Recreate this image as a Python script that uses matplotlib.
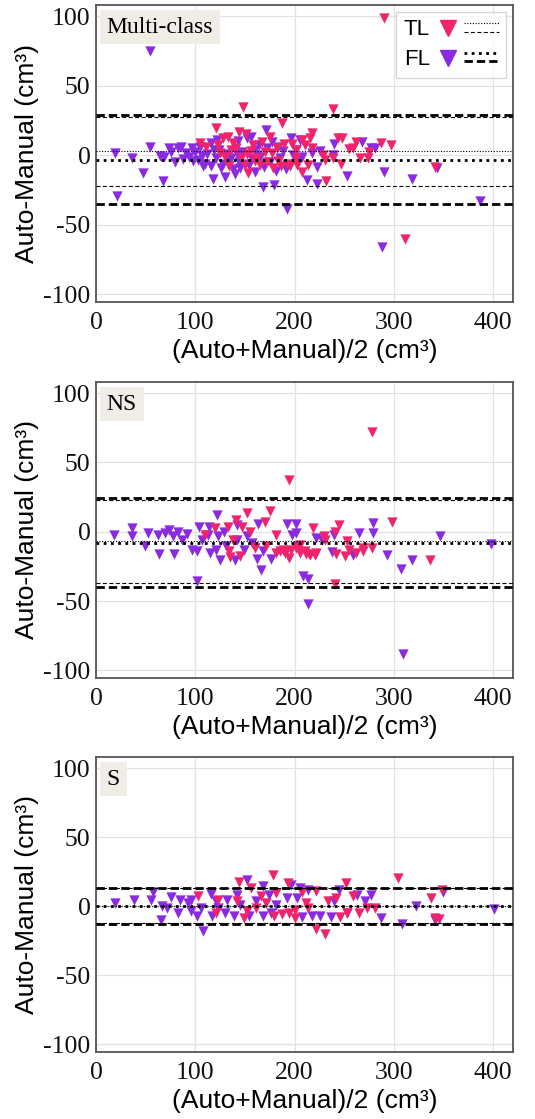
import matplotlib
matplotlib.use("Agg")
import matplotlib.pyplot as plt
from matplotlib.legend_handler import HandlerBase
from matplotlib.lines import Line2D

plt.rcParams['font.family'] = ['Liberation Sans', 'DejaVu Sans']
plt.rcParams['axes.unicode_minus'] = False

# ---------------- data ----------------
panel_titles = ["Multi-class", "NS", "S"]
class_names = ["TL", "FL"]
x_ticks = [0, 100, 200, 300, 400]
y_ticks = [-100, -50, 0, 50, 100]

# Multi-class
mc_tl_x = [148.5, 120.7, 132.8, 144.3, 150.8, 123, 128, 105, 110.5, 136, 152.5, 158, 162.3, 150, 153.4,
           175.4, 177, 183, 187.5, 189, 192.5, 195, 201.6, 172, 165, 129.5, 124.6, 141, 167, 182,
           239, 218, 216, 244, 248, 262, 259, 255, 287, 297, 207.6, 211, 217.5, 229, 230.7, 239, 247,
           266, 274, 275, 213.5, 207, 231.4, 202.6, 341, 201, 290, 311,
           138, 146, 156, 170, 186, 197, 178, 160, 134]
mc_tl_y = [35, 19.4, 13.4, 16.5, 15, 7.4, 12.2, 8.6, 5.7, 3.8, 0.6, 7.4, -1.8, -7, -13,
           13.4, 1.4, -3.9, 23, 7.9, -6.3, -7.5, 3.8, -4.7, -7, -1, 1.4, 5, 9.8, 5,
           33, 15.8, 12.2, 12.7, 12.7, 9.8, 5.4, 4.5, 8.6, 7.4, 11, 7.4, 5, 0.2, -3.5, -2.2, -6.6,
           -2.2, -1.8, 2.1, -7, -11.9, -18.6, -7, -8.3, -2.2, 99, -60,
           9, -2, 3, 2, -8, 8, -9, -4, -8]
mc_fl_x = [18.7, 36, 47.5, 54.8, 21.3, 67.9, 64, 68.9, 73.8, 79.7, 83, 86, 90.8, 96.7, 94, 105, 103, 110,
           116, 112, 115.4, 122, 124, 128, 133, 129.5, 117.4, 140, 142.6, 144, 141.6, 152.5, 155.7,
           147.5, 159.7, 164, 171.5, 168.9, 177, 181, 168, 179, 196, 198, 191.8, 106.6, 121, 136, 162,
           172, 100, 108, 126, 138, 150, 157, 165, 185, 188, 175, 160, 145,
           205, 240, 267.7, 276.9, 280.9, 225.7, 217.5, 239, 207.6, 222.8, 212.5, 223, 252.5, 290,
           318.5, 343.9, 386.5, 201, 203.6, 54, 192, 288,
           76, 88, 98, 119, 131, 154, 183]
mc_fl_y = [1.4, -2.2, -13, 6.2, -29.2, -18.6, -0.4, -1, 5.4, -4.7, 5.4, 6.2, 1.4, 5, -1, 6.2, -3.5, -6.6,
           -7.5, 0.6, 8.6, 11, 3.8, -6.3, -4.2, -15.5, -17.4, -13.8, 10.3, -4.6, 0.6, 12.2, 13.4,
           2.5, 3.8, 7.4, 18.2, -8.3, 9.8, -11.4, -22.7, -21.5, 12.2, 0.2, -10, -0.3, -2.2, -2.2, 0.2,
           5, 2, -8, -9, -10, -6, -3, -1, -2, 3, -5, -12, -9,
           11, 7.9, 9.3, 5, 5.4, 3.1, 1.4, 0.2, -1, -8.3, -17.9, -21, -15, -11.9,
           -17.2, -9, -33, 3.8, -4.7, 75, -39, -66,
           2, -3, -4, 4, 1, -7, 6]

# NS
ns_tl_x = [140.7, 152, 175, 194, 132.6, 147.2, 155.4, 170, 181.4, 134.2, 145, 171.7, 181.4, 188, 194.5,
           119.5, 109.8, 160.3, 201, 137.5, 298.4, 244.3, 240.3, 218.7, 229.5, 252.5, 262.3, 268.9,
           277.7, 255, 250.8, 221, 216, 211.5, 205, 336, 240.3, 231, 278,
           185, 190, 196, 205, 210, 215, 222, 135, 242, 269]
ns_tl_y = [8.5, 13.3, 14.9, 37, 3.7, 3.7, 0.1, 6.8, -2.3, -14.2, -17.8, -10.6, -15.4, -13, -19,
           2.5, -2.3, -11.8, -11.8, -5.8, 7.3, 4.9, 0.1, 2.5, -3, -6.5, -15.4, -11.8,
           -11.8, -13, -17.8, -17, -16.6, -16, -9.4, -20.6, -37.6, -5.8, 72,
           -14, -15, -13, -15, -14, -16, -15, -18, -16, -14]
ns_fl_x = [17.9, 36.5, 35.8, 49.5, 52.8, 63.5, 78.8, 62.5, 69, 74, 77.2, 83, 87, 91.9, 96.7, 101.6, 104,
           106.5, 113.7, 114.7, 122, 121, 125.1, 122.8, 129.3, 131, 139.7, 141.7, 148.9, 161.9, 166.1,
           163.5, 168.4, 176.5, 192.8, 191.2, 197.7, 101.6, 152, 157, 142.3, 113,
           201.6, 201.6, 278.7, 278.7, 264.6, 239.3, 221.3, 227.9, 237.7, 258.4, 293.4, 318, 307.2,
           346.9, 397.7, 208.2, 213.8, 213.8, 203, 309]
ns_fl_y = [-2.3, 2.5, -3.4, -10.6, -1.1, -16.1, -16.1, -2.3, -1.1, 1.3, -3.4, 0.1, -5.8, -1.8, -13, -14.2, 3.7,
           -5.8, 3.7, -15.4, 12, -13, -20.2, -3.4, 0.1, -10.6, -20.2, 4.9, -13, -19.7, -27.3,
           5.4, -14.2, -19.4, 5.4, -14.2, -2.3, -35.2, -3.4, -8.2, -5.8, -2.3,
           5.4, -1.1, 6.1, -1.1, -1.1, -2.3, -4.2, -5.8, -14.7, -17, -17, -20.2, -26.8,
           -3, -9, -31.6, -34, -51.9, -10.6, -88]

# S
s_tl_x = [178, 144.5, 193.6, 156.6, 166.4, 181, 207.4, 222, 251.6, 259, 242, 234, 212, 187.7, 194,
          222, 231, 245.4, 253, 265, 273, 281, 304, 337.7, 345, 341.8, 348.5, 103, 123, 142, 152,
          161.5, 171, 179.5, 200.8, 214, 148.8, 200.8, 121]
s_tl_y = [22.9, 17.3, 16.5, 13, 7.1, 9.5, 10.6, 11.1, 16.5, 7.1, 5.9, 3.5, 2.4, -5.9, -4.7,
          -16.5, -20.1, -7.8, -4.7, -4.7, -1.2, -1.2, 20.1, 5.9, -9.5, -8.3, 11.8, 7.1, 4.7, 3.5, -3.5,
          -1.2, 2.4, -7.1, -2.4, -1.2, -8.3, -8.3, -4.7]
s_fl_x = [19.1, 37.8, 55.2, 57.5, 65, 66.6, 71.5, 75.5, 83, 84.6, 92.8, 96, 102, 108.2, 105.9, 115.7,
          116.7, 123, 132, 130.4, 138.6, 145, 151.7, 154.3, 161.5, 168, 168, 176.3, 174.6, 181, 192.6,
          195.9, 205.7, 202.4, 207.4, 214, 217.2, 225.4, 236.8, 245, 239.4, 252.6, 262.5, 270.7,
          277.3, 287.3, 308.7, 322.2, 341.5, 349, 400.5, 96, 142, 121]
s_fl_y = [2.4, 4.7, 4.3, 10.6, -10.2, 0, -1.2, 6.4, -4.7, 4.7, 2.4, 4.7, -7.1, -18.2, -1.2, 8.7,
          -7.1, -1.2, 4.7, -4.7, -7.1, 1.2, 18.9, -7.1, 3.5, 14.9, -7.1, -4.7, 8.3, 1.2, 5.9,
          15.4, 13, 5.9, -7.8, 11.8, -7.1, -7.1, -7.8, 11.8, 4, -4.7, 8.3, 3.5,
          8.3, -8.3, -13, 0, -10.2, 10.2, -1.9, -3.5, 8.3, 3.5]

# Bias and limits of agreement: [mean, lower, upper]
mc_tl_loa = [2.7, -22.4, 27.8]
mc_fl_loa = [-3.2, -35.0, 28.6]
ns_tl_loa = [-7.0, -37.0, 23.0]
ns_fl_loa = [-7.8, -40.0, 24.5]
s_tl_loa = [0.5, -12.3, 13.3]
s_fl_loa = [0.3, -12.6, 13.1]

# ---------------- style ----------------
TL_COLOR = '#f0246c'
FL_COLOR = '#8a2be2'
SERIF = 'Liberation Serif'

thin_dot = dict(ls=(0, (1, 1.5)), lw=0.8, color='black')
thin_dash = dict(ls=(0, (3.6, 2.2)), lw=0.8, color='black')
thick_dot = dict(ls=(0, (1, 1.6)), lw=2.0, color='black')
thick_dash = dict(ls=(0, (3, 1.45)), lw=2.0, color='black')


class Key:
    def __init__(self, color, dot, dash):
        self.color = color
        self.dot = dot
        self.dash = dash


class KeyHandler(HandlerBase):
    def create_artists(self, legend, orig_handle, xdescent, ydescent, width, height, fontsize, trans):
        cy = height / 2 - ydescent
        x0 = -xdescent
        m = Line2D([x0 + 0.12 * width], [cy], marker='v', markersize=12, color=orig_handle.color,
                   linestyle='none', transform=trans)
        l1 = Line2D([x0 + 0.40 * width, x0 + width], [cy + 0.3 * height] * 2, transform=trans,
                    **orig_handle.dot)
        l2 = Line2D([x0 + 0.40 * width, x0 + width], [cy - 0.25 * height] * 2, transform=trans,
                    **orig_handle.dash)
        return [m, l1, l2]


fig = plt.figure(figsize=(5.35, 11.19), dpi=100)
left, width = 96 / 535, 417 / 535
rects = [(1 - 302 / 1119, 297 / 1119), (1 - 678 / 1119, 296 / 1119), (1 - 1052 / 1119, 295 / 1119)]

panels = [
    (mc_tl_x, mc_tl_y, mc_fl_x, mc_fl_y, mc_tl_loa, mc_fl_loa),
    (ns_tl_x, ns_tl_y, ns_fl_x, ns_fl_y, ns_tl_loa, ns_fl_loa),
    (s_tl_x, s_tl_y, s_fl_x, s_fl_y, s_tl_loa, s_fl_loa),
]

for i, (title, (b, h), (tx, ty, fx, fy, tl_loa, fl_loa)) in enumerate(zip(panel_titles, rects, panels)):
    ax = fig.add_axes([left, b, width, h])
    ax.set_xlim(0, 420)
    ax.set_ylim(-105.5, 108)
    ax.set_xticks(x_ticks)
    ax.set_yticks(y_ticks)
    ax.grid(True, color='#e2e2e2', lw=0.9)
    ax.set_axisbelow(True)
    for sp in ax.spines.values():
        sp.set_color('#555555')
        sp.set_linewidth(1.3)
    ax.tick_params(length=0, labelsize=18.5, labelfontfamily=SERIF, colors='#111111')
    ax.tick_params(axis='x', pad=7)
    ax.tick_params(axis='y', pad=4)

    ax.scatter(fx, fy, marker='v', s=55, color=FL_COLOR, linewidths=0, zorder=3)
    ax.scatter(tx, ty, marker='v', s=55, color=TL_COLOR, linewidths=0, zorder=3)

    ax.axhline(tl_loa[0], zorder=4, **thin_dot)
    ax.axhline(tl_loa[1], zorder=4, **thin_dash)
    ax.axhline(tl_loa[2], zorder=4, **thin_dash)
    ax.axhline(fl_loa[0], zorder=4, **thick_dot)
    ax.axhline(fl_loa[1], zorder=4, **thick_dash)
    ax.axhline(fl_loa[2], zorder=4, **thick_dash)

    ax.set_xlabel('(Auto+Manual)/2 (cm³)', fontsize=19, labelpad=4)
    ax.set_ylabel('Auto-Manual (cm³)', fontsize=19, labelpad=3)

    ax.text(0.026, 0.96, title, transform=ax.transAxes, fontsize=17, family=SERIF,
            va='top', ha='left', zorder=5,
            bbox=dict(boxstyle='square,pad=0.28', facecolor='#f0ede6', edgecolor='none'))

    if i == 0:
        keys = [Key(TL_COLOR, thin_dot, thin_dash), Key(FL_COLOR, thick_dot, thick_dash)]
        leg = ax.legend(keys, class_names, handler_map={Key: KeyHandler()}, loc='upper right',
                        markerfirst=False, fontsize=16, frameon=True, fancybox=False,
                        handlelength=2.6, handletextpad=0.5, borderaxespad=0.3,
                        labelspacing=0.4, borderpad=0.35)
        leg.get_frame().set_edgecolor('#cccccc')
        leg.get_frame().set_linewidth(1.0)
        leg.set_zorder(6)

fig.savefig('out.png', dpi=100)
